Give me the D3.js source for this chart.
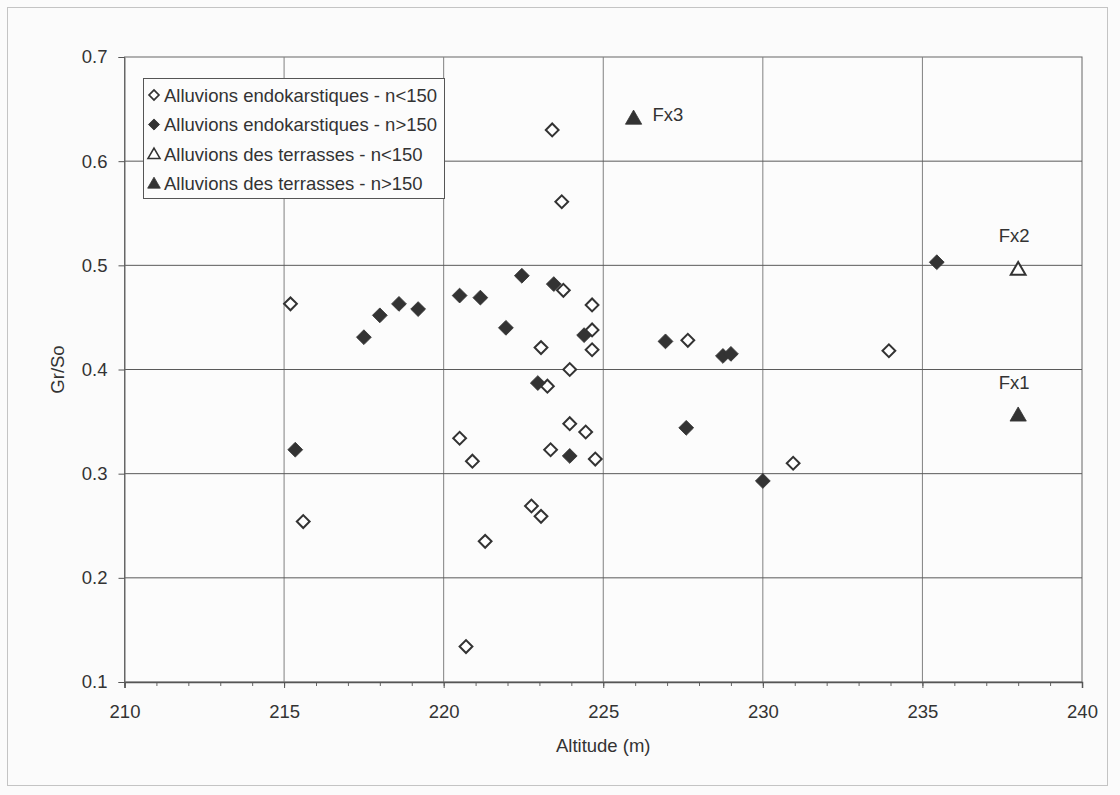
<!DOCTYPE html>
<html>
<head>
<meta charset="utf-8">
<script src="https://cdn.jsdelivr.net/npm/d3@7"></script>
<style>
  html, body { margin: 0; padding: 0; background: #fbfbfb; }
  svg { display: block; }
  text { font-family: "Liberation Sans", Arial, sans-serif; fill: #333; }
</style>
</head>
<body>
<svg id="chart" width="1120" height="795"></svg>
<script>
// ---- data ----
const xTicks = [210, 215, 220, 225, 230, 235, 240];
const yTicks = [0.1, 0.2, 0.3, 0.4, 0.5, 0.6, 0.7];
const yTickLabels = ["0.1", "0.2", "0.3", "0.4", "0.5", "0.6", "0.7"];

const seriesNames = [
  "Alluvions endokarstiques - n<150",
  "Alluvions endokarstiques - n>150",
  "Alluvions des terrasses - n<150",
  "Alluvions des terrasses - n>150"
];

// Alluvions endokarstiques - n<150 (open diamonds)
const endoLowAlt = [215.2, 215.6, 220.5, 220.7, 220.9, 221.3, 222.75, 223.05, 223.05, 223.25, 223.35, 223.4, 223.7, 223.75, 223.95, 223.95, 224.45, 224.65, 224.65, 224.65, 224.75, 227.65, 230.95, 233.95];
const endoLowGr  = [0.463, 0.254, 0.334, 0.134, 0.312, 0.235, 0.269, 0.421, 0.259, 0.384, 0.323, 0.630, 0.561, 0.476, 0.400, 0.348, 0.340, 0.462, 0.438, 0.419, 0.314, 0.428, 0.310, 0.418];

// Alluvions endokarstiques - n>150 (filled diamonds)
const endoHighAlt = [215.35, 217.5, 218.0, 218.6, 219.2, 220.5, 221.15, 221.95, 222.45, 222.95, 223.45, 223.95, 224.4, 226.95, 227.6, 228.75, 229.0, 230.0, 235.45];
const endoHighGr  = [0.323, 0.431, 0.452, 0.463, 0.458, 0.471, 0.469, 0.440, 0.490, 0.387, 0.482, 0.317, 0.433, 0.427, 0.344, 0.413, 0.415, 0.293, 0.503];

// Alluvions des terrasses - n<150 (open triangle)
const terrLowAlt = [238.0];
const terrLowGr  = [0.495];
const terrLowLbl = ["Fx2"];

// Alluvions des terrasses - n>150 (filled triangles)
const terrHighAlt = [238.0, 225.95];
const terrHighGr  = [0.355, 0.640];
const terrHighLbl = ["Fx1", "Fx3"];

// ---- layout ----
const svg = d3.select("#chart");
const L = 124.5, R = 1082, T = 57, B = 682;
const x = d3.scaleLinear().domain([210, 240]).range([L, R]);
const y = d3.scaleLinear().domain([0.1, 0.7]).range([B, T]);
const FS = 18.5;
const ink = "#333";

// outer frame
svg.append("rect").attr("x", 7.5).attr("y", 7.5).attr("width", 1100).attr("height", 778)
  .attr("fill", "none").attr("stroke", "#c4c4c4").attr("stroke-width", 1);

// plot frame
svg.append("rect").attr("x", L).attr("y", T).attr("width", R - L).attr("height", B - T)
  .attr("fill", "#fcfcfc").attr("stroke", "#666").attr("stroke-width", 1);

// gridlines
svg.append("g").selectAll("line").data(xTicks.slice(1, -1)).join("line")
  .attr("x1", d => x(d)).attr("x2", d => x(d)).attr("y1", T).attr("y2", B)
  .attr("stroke", "#808080").attr("stroke-width", 1);
svg.append("g").selectAll("line").data(yTicks.slice(1, -1)).join("line")
  .attr("x1", L).attr("x2", R).attr("y1", d => y(d)).attr("y2", d => y(d))
  .attr("stroke", "#5a5a5a").attr("stroke-width", 1);

// x axis (major + minor)
const minor = d3.range(210, 241, 1);
const gxMinor = svg.append("g").attr("transform", `translate(0,${B})`)
  .call(d3.axisBottom(x).tickValues(minor).tickSize(4).tickFormat(""));
gxMinor.select(".domain").remove();
gxMinor.selectAll("line").attr("stroke", "#666");

const gx = svg.append("g").attr("transform", `translate(0,${B})`)
  .call(d3.axisBottom(x).tickValues(xTicks).tickSize(6).tickPadding(17).tickFormat(d3.format("d")));
gx.select(".domain").attr("stroke", "#555").attr("stroke-width", 1.5);
gx.selectAll("line").attr("stroke", "#555");
gx.selectAll("text").attr("font-size", FS).attr("fill", ink)
  .style("font-family", '"Liberation Sans", Arial, sans-serif');

// y axis
const gy = svg.append("g").attr("transform", `translate(${L},0)`)
  .call(d3.axisLeft(y).tickValues(yTicks).tickSize(6).tickPadding(11)
    .tickFormat((d, i) => yTickLabels[i]));
gy.select(".domain").attr("stroke", "#666");
gy.selectAll("line").attr("stroke", "#555");
gy.selectAll("text").attr("font-size", FS).attr("fill", ink)
  .style("font-family", '"Liberation Sans", Arial, sans-serif');

// axis titles
svg.append("text").attr("x", (L + R) / 2).attr("y", 752).attr("text-anchor", "middle")
  .attr("font-size", FS).text("Altitude (m)");
svg.append("text").attr("transform", `translate(64,${(T + B) / 2}) rotate(-90)`)
  .attr("text-anchor", "middle").attr("font-size", FS).text("Gr/So");

// markers
const diamond = (size) => d3.symbol().type(d3.symbolSquare).size(size)();
const triangle = (size) => d3.symbol().type(d3.symbolTriangle).size(size)();

function plotSeries(alts, grs, path, filled, rot) {
  const g = svg.append("g");
  g.selectAll("path").data(alts.map((a, i) => [a, grs[i]])).join("path")
    .attr("d", path)
    .attr("transform", d => `translate(${x(d[0])},${y(d[1])}) rotate(${rot})`)
    .attr("fill", filled ? ink : "#fff")
    .attr("stroke", ink)
    .attr("stroke-width", filled ? 0.8 : 2)
    .attr("stroke-linejoin", "miter");
}

// point labels (white background)
function plotLabels(alts, grs, labels, offsets) {
  const g = svg.append("g");
  labels.forEach((lbl, i) => {
    const o = offsets[lbl];
    const t = g.append("text")
      .attr("x", x(alts[i]) + o[0]).attr("y", y(grs[i]) + o[1])
      .attr("text-anchor", o[2]).attr("font-size", FS).text(lbl);
    const bb = t.node().getBBox();
    g.insert("rect", "text").attr("x", bb.x - 3).attr("y", bb.y - 1)
      .attr("width", bb.width + 6).attr("height", bb.height + 2).attr("fill", "#fcfcfc");
  });
}
const labelOffsets = {
  "Fx1": [-4, -27, "middle"],
  "Fx2": [-4, -29, "middle"],
  "Fx3": [19, 1, "start"]
};

plotLabels(terrLowAlt, terrLowGr, terrLowLbl, labelOffsets);
plotLabels(terrHighAlt, terrHighGr, terrHighLbl, labelOffsets);

plotSeries(endoLowAlt, endoLowGr, diamond(82), false, 45);
plotSeries(endoHighAlt, endoHighGr, diamond(110), true, 45);
plotSeries(terrLowAlt, terrLowGr, triangle(95), false, 0);
plotSeries(terrHighAlt, terrHighGr, triangle(115), true, 0);

// legend
const lg = svg.append("g");
lg.append("rect").attr("x", 143.5).attr("y", 78.5).attr("width", 301).attr("height", 120)
  .attr("fill", "#fcfcfc").attr("stroke", "#555").attr("stroke-width", 1);
const legendMarkers = [
  { path: diamond(50), filled: false, rot: 45 },
  { path: diamond(62), filled: true, rot: 45 },
  { path: triangle(62), filled: false, rot: 0 },
  { path: triangle(70), filled: true, rot: 0 }
];
seriesNames.forEach((name, i) => {
  const cy = 95 + i * 29.5;
  const m = legendMarkers[i];
  lg.append("path").attr("d", m.path)
    .attr("transform", `translate(154,${cy + (m.rot ? 0 : 1)}) rotate(${m.rot})`)
    .attr("fill", m.filled ? ink : "#fff").attr("stroke", ink)
    .attr("stroke-width", m.filled ? 0.8 : 1.6);
  lg.append("text").attr("x", 164).attr("y", cy + 6.5).attr("font-size", FS).text(name);
});
</script>
</body>
</html>
